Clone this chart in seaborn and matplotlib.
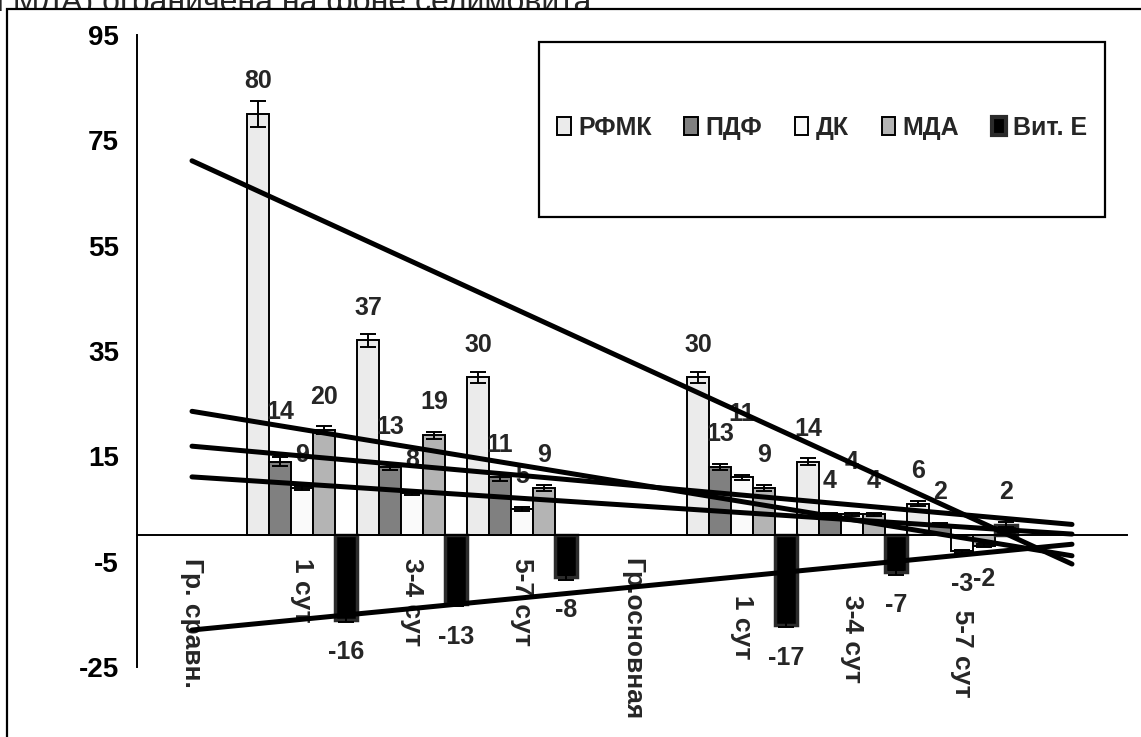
import numpy as np
import pandas as pd
import matplotlib
matplotlib.use("Agg")
import matplotlib.pyplot as plt
from matplotlib.container import BarContainer
from matplotlib.patches import Rectangle, Patch
from matplotlib.ticker import FixedLocator
import seaborn as sns

# categories on the x axis (last one is an empty slot, as in the original);
# the leading spaces push the second group's labels down like in the source
categories = ["Гр. сравн.", "1 сут", "3-4 сут", "5-7 сут", "Гр.основная",
              "     1 сут", "     3-4 сут", "       5-7 сут", ""]
series = ["РФМК", "ПДФ", "ДК", "МДА", "Вит. Е"]

nan = np.nan
rfmk = [nan, 80, 37, 30, nan, 30, 14, 6, nan]
pdf_ = [nan, 14, 13, 11, nan, 13, 4, 2, nan]
dk = [nan, 9, 8, 5, nan, 11, 4, -3, nan]
mda = [nan, 20, 19, 9, nan, 9, 4, -2, nan]
vit_e = [nan, -16, -13, -8, nan, -17, -7, 2, nan]

err_rfmk = [nan, 2.5, 1.2, 1.0, nan, 1.0, 0.6, 0.5, nan]
err_pdf = [nan, 0.8, 0.6, 0.6, nan, 0.6, 0.3, 0.3, nan]
err_dk = [nan, 0.4, 0.3, 0.3, nan, 0.4, 0.3, 0.3, nan]
err_mda = [nan, 0.7, 0.7, 0.5, nan, 0.5, 0.3, 0.3, nan]
err_vit = [nan, 0.5, 0.5, 0.5, nan, 0.5, 0.5, 0.5, nan]

yticks = [-25, -5, 15, 35, 55, 75, 95]
colors = ["#ebebeb", "#808080", "#fafafa", "#b4b4b4", "#000000"]

values = [rfmk, pdf_, dk, mda, vit_e]
errors = [err_rfmk, err_pdf, err_dk, err_mda, err_vit]

# a few data labels sit higher in the source (series idx, category idx) -> extra points
label_nudge = {(1, 1): 12, (1, 2): 5, (2, 5): 22, (2, 6): 14}

sns.set_style("white")
plt.rcParams["font.family"] = ["Liberation Sans", "DejaVu Sans"]
plt.rcParams["axes.unicode_minus"] = False

# long table for seaborn, blank cells dropped
ids = [f"c{i}" for i in range(len(categories))]
rows = []
for s, vals in zip(series, values):
    for cid, v in zip(ids, vals):
        if not np.isnan(v):
            rows.append({"cat": cid, "series": s, "value": v})
df = pd.DataFrame(rows)

fig = plt.figure(figsize=(11.41, 7.37), dpi=100)
ax = fig.add_axes([137 / 1141, 1 - 667 / 737, 990 / 1141, 632 / 737])

sns.barplot(data=df, x="cat", y="value", hue="series", order=ids,
            hue_order=series, palette=colors, width=1.0, errorbar=None,
            edgecolor="black", linewidth=1.4, legend=False, ax=ax, zorder=2)

bars = [c for c in ax.containers if isinstance(c, BarContainer)]
for cont in bars:
    anns = ax.bar_label(cont, fmt="%g", padding=15, fontsize=18,
                        fontweight="bold", zorder=3)
    for p, ann in zip(cont.patches, anns):
        cx = p.get_x() + p.get_width() / 2
        ci = int(round(cx))
        hi = int(round((cx - ci) / 0.2 + 2))
        if hi == 4:
            # vit E bars have a dark grey outline
            p.set_edgecolor("#2b2b2b")
            p.set_linewidth(2.5)
        if (hi, ci) in label_nudge:
            ann.xyann = (0, 15 + label_nudge[(hi, ci)])
        ax.errorbar(cx, p.get_height(), yerr=errors[hi][ci], color="black",
                    elinewidth=1.4, capsize=5.5, capthick=1.4, zorder=3)

# linear trend for every series, drawn from the first slot to the last
x = np.arange(len(categories))
for vals in values:
    y = np.array(vals, dtype=float)
    m = ~np.isnan(y)
    k, b = np.polyfit(x[m], y[m], 1)
    xs = np.array([0, len(categories) - 1])
    ax.plot(xs, k * xs + b, color="black", lw=3.6, solid_capstyle="round", zorder=4)

ax.set_xlim(-0.5, len(categories) - 0.5)
ax.set_ylim(-25, 95)
ax.set_xlabel("")
ax.set_ylabel("")
ax.spines[["top", "right"]].set_visible(False)
ax.spines["bottom"].set_position(("data", 0))
for sp in ("left", "bottom"):
    ax.spines[sp].set_linewidth(1.4)
    ax.spines[sp].set_color("black")

ax.yaxis.set_major_locator(FixedLocator(yticks))
ax.tick_params(axis="y", length=6, width=1.4, direction="out", pad=7,
               labelsize=20, colors="black")
for t in ax.get_yticklabels():
    t.set_fontweight("bold")

ax.set_xticks(x)
ax.set_xticklabels(categories, rotation=270, va="top", ha="center",
                   fontsize=19, fontweight="bold")
ax.set_xticks([0.5, 4.5, 8.5], minor=True)
ax.tick_params(axis="x", which="major", length=0, pad=16)
ax.tick_params(axis="x", which="minor", length=7, width=1.4, direction="out",
               color="black")

# legend in a large framed box
handles = []
for s, c in zip(series, colors):
    if s == "Вит. Е":
        handles.append(Patch(facecolor=c, edgecolor="#2b2b2b", linewidth=3, label=s))
    else:
        handles.append(Patch(facecolor=c, edgecolor="black", linewidth=1.4, label=s))
fig.add_artist(Rectangle((539 / 1141, 1 - 217 / 737), 566 / 1141, 175 / 737,
                         fill=False, edgecolor="black", linewidth=1.6,
                         transform=fig.transFigure))
fig.legend(handles=handles, loc="center", ncol=5, frameon=False,
           bbox_to_anchor=(822 / 1141, 1 - 128 / 737),
           bbox_transform=fig.transFigure,
           handlelength=0.55, handleheight=0.75, handletextpad=0.3,
           columnspacing=1.3,
           prop={"weight": "bold", "size": 18})

# the pasted chart's white frame hides the lower part of the text line above it
fig.text(-0.012, 1 - 11 / 737, "и МДА) ограничена на фоне селимовита.",
         fontsize=23, va="baseline", ha="left", zorder=-3)
fig.add_artist(Rectangle((7 / 1141, -0.1), 1.2, 1.1 - 9 / 737,
                         facecolor="white", edgecolor="black", linewidth=1.6,
                         transform=fig.transFigure, zorder=-2))
ax.set_zorder(0)

fig.savefig("out.png", dpi=100)
